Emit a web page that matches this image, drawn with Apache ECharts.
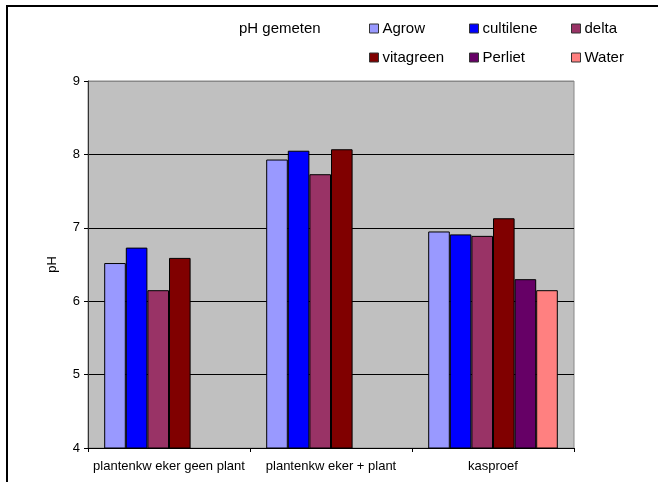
<!DOCTYPE html>
<html>
<head>
<meta charset="utf-8">
<script src="https://cdn.jsdelivr.net/npm/echarts@6/dist/echarts.min.js"></script>
<style>
html,body{margin:0;padding:0;background:#fff;}
#chart{width:658px;height:482px;}
</style>
</head>
<body>
<div id="chart"></div>
<script>
var categories = ['plantenkw eker geen plant', 'plantenkw eker + plant', 'kasproef'];
var seriesNames = ['Agrow', 'cultilene', 'delta', 'vitagreen', 'Perliet', 'Water'];
var agrow = [6.52, 7.93, 6.95];
var cultilene = [6.73, 8.05, 6.91];
var delta = [6.15, 7.73, 6.89];
var vitagreen = [6.59, 8.07, 7.13];
var perliet = [null, null, 6.30];
var water = [null, null, 6.15];
var yTicks = [4, 5, 6, 7, 8, 9];

var values = [agrow, cultilene, delta, vitagreen, perliet, water];
var colors = ['#9999FF', '#0000FF', '#993366', '#800000', '#660066', '#FF8080'];
var FONT = 'Liberation Sans, Arial, sans-serif';

var legendPos = [
  {left: 369, top: 21}, {left: 469, top: 21}, {left: 571, top: 21},
  {left: 369, top: 50}, {left: 469, top: 50}, {left: 571, top: 50}
];

var chart = echarts.init(document.getElementById('chart'), null, {renderer: 'canvas'});
var option = {
  animation: false,
  backgroundColor: '#ffffff',
  color: colors,
  title: {
    text: 'pH gemeten',
    left: 234, top: 16,
    textStyle: {fontFamily: FONT, fontSize: 15, fontWeight: 'normal', color: '#000'}
  },
  legend: seriesNames.map(function (n, i) {
    return {
      data: [n],
      left: legendPos[i].left, top: legendPos[i].top,
      itemWidth: 9, itemHeight: 9, itemGap: 0, padding: 0,
      icon: 'rect',
      textStyle: {fontFamily: FONT, fontSize: 15, color: '#000', padding: [0, 0, 0, -1]},
      itemStyle: {borderColor: '#333', borderWidth: 1}
    };
  }),
  grid: {left: 88, right: 84, top: 81, bottom: 34, show: true, backgroundColor: '#C0C0C0', borderColor: '#888888', borderWidth: 1},
  xAxis: {
    type: 'category',
    data: categories,
    axisLine: {lineStyle: {color: '#000', width: 1}},
    axisTick: {show: true, length: 4, lineStyle: {color: '#000'}},
    axisLabel: {fontFamily: FONT, fontSize: 13, color: '#000', margin: 12, interval: 0}
  },
  yAxis: {
    type: 'value',
    min: yTicks[0], max: yTicks[yTicks.length - 1], interval: 1,
    name: 'pH', nameLocation: 'middle', nameGap: 29,
    nameTextStyle: {fontFamily: FONT, fontSize: 13, color: '#000'},
    axisLine: {show: true, lineStyle: {color: '#333', width: 1}},
    axisTick: {show: true, length: 4, lineStyle: {color: '#000'}},
    axisLabel: {fontFamily: FONT, fontSize: 13, color: '#000', margin: 8},
    splitLine: {show: true, lineStyle: {color: ['#000', '#000', '#000', '#000', '#000', '#888'], width: 1}}
  },
  series: seriesNames.map(function (n, i) {
    return {
      name: n, type: 'bar', data: values[i],
      barGap: '0%', barCategoryGap: '20%',
      itemStyle: {color: colors[i], borderColor: '#000', borderWidth: 1}
    };
  }),
  graphic: [
    {type: 'line', shape: {x1: 6, y1: 6, x2: 658, y2: 6}, style: {stroke: '#000', lineWidth: 2}},
    {type: 'line', shape: {x1: 7, y1: 6, x2: 7, y2: 482}, style: {stroke: '#000', lineWidth: 2}}
  ]
};
chart.setOption(option);
</script>
</body>
</html>
